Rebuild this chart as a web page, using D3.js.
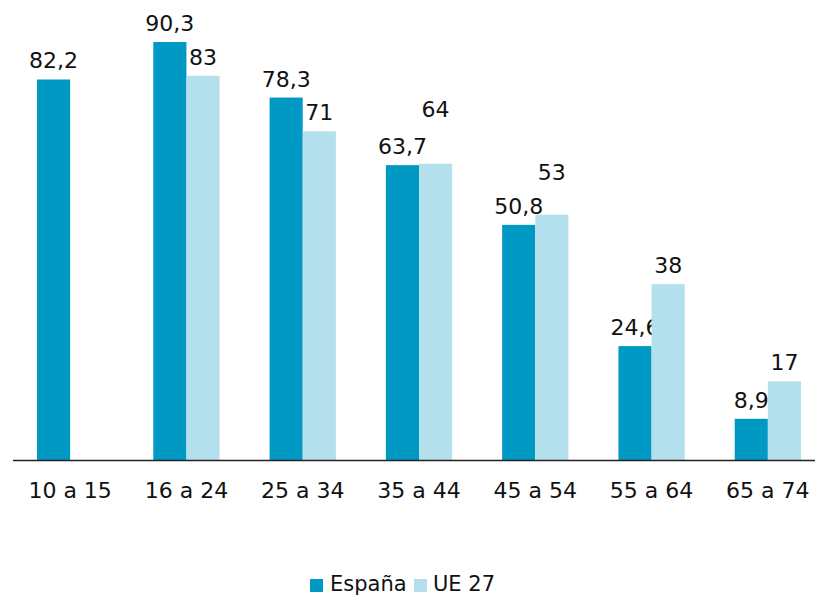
<!DOCTYPE html>
<html><head><meta charset="utf-8">
<script src="https://cdn.jsdelivr.net/npm/d3@7"></script>
<style>body{margin:0;background:#fff}svg{display:block}text{font-family:"DejaVu Sans",Verdana,sans-serif;fill:#111}</style>
</head><body>
<svg id="c" width="815" height="596"></svg>
<script>
const categories = ["10 a 15","16 a 24","25 a 34","35 a 44","45 a 54","55 a 64","65 a 74"];
const espana = [82.2, 90.3, 78.3, 63.7, 50.8, 24.6, 8.9];
const ue27 = [null, 83, 71, 64, 53, 38, 17];
const espanaLabels = ["82,2","90,3","78,3","63,7","50,8","24,6","8,9"];
const ue27Labels = ["", "83", "71", "64", "53", "38", "17"];
const seriesNames = ["España", "UE 27"];
const colors = ["#0099c4", "#b3e0ec"];

const svg = d3.select("#c");
const baseY = 460;
const x = d3.scaleBand().domain(categories).range([12, 826]).paddingInner(0.43).paddingOuter(0.215);
const xs = d3.scaleBand().domain([0,1]).range([0, x.bandwidth()]);
const y = d3.scaleLinear().domain([0, 90.3]).range([baseY, 42]);
// manual label lifts seen in the reference (UE 27 labels for two groups)
const ueLift = {"35 a 44": 36, "45 a 54": 24};

const g = svg.append("g");
categories.forEach((c, i) => {
  const vals = [espana[i], ue27[i]];
  const labs = [espanaLabels[i], ue27Labels[i]];
  vals.forEach((v, s) => {
    if (v == null) return;
    const bx = x(c) + xs(s);
    g.append("rect").attr("x", bx).attr("y", y(v)).attr("width", xs.bandwidth())
      .attr("height", baseY - y(v)).attr("fill", colors[s]);
    const lift = s === 1 ? (ueLift[c] || 0) : 0;
    g.append("text").attr("x", bx + xs.bandwidth()/2).attr("y", y(v) - 11 - lift)
      .attr("text-anchor", "middle").style("font-size", "22px").text(labs[s]);
  });
});

svg.append("line").attr("x1", 13).attr("x2", 815).attr("y1", baseY + 0.5).attr("y2", baseY + 0.5)
  .attr("stroke", "#222").attr("stroke-width", 1.5);

const xAxis = d3.axisBottom(x).tickSize(0).tickPadding(0);
const ax = svg.append("g").attr("transform", `translate(0,${baseY})`).call(xAxis);
ax.select(".domain").remove();
ax.selectAll("text").attr("dy", null).attr("y", 38).style("font-size", "22px")
  .style("font-family", '"DejaVu Sans",Verdana,sans-serif').attr("fill", "#111");

const legend = svg.append("g");
const items = [{x: 310, tx: 330}, {x: 414, tx: 433}];
seriesNames.forEach((n, i) => {
  legend.append("rect").attr("x", items[i].x).attr("y", 579).attr("width", 13).attr("height", 13).attr("fill", colors[i]);
  legend.append("text").attr("x", items[i].tx).attr("y", 591).style("font-size", "21px").text(n);
});
</script>
</body></html>
